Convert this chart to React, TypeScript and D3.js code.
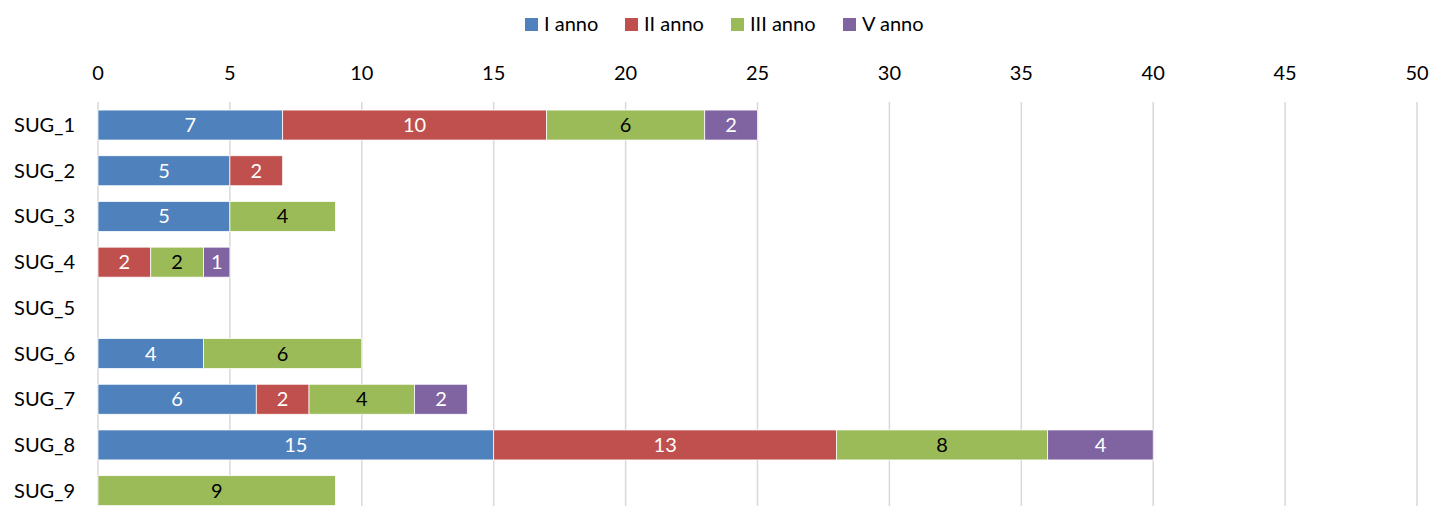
import React from "react";
import * as d3 from "d3";

const categories = ["SUG_1", "SUG_2", "SUG_3", "SUG_4", "SUG_5", "SUG_6", "SUG_7", "SUG_8", "SUG_9"];
const seriesNames = ["I anno", "II anno", "III anno", "V anno"];
const annoI = [7, 5, 5, 0, 0, 4, 6, 15, 0];
const annoII = [10, 2, 0, 2, 0, 0, 2, 13, 0];
const annoIII = [6, 0, 4, 2, 0, 6, 4, 8, 9];
const annoV = [2, 0, 0, 1, 0, 0, 2, 4, 0];
const xTicks = [0, 5, 10, 15, 20, 25, 30, 35, 40, 45, 50];

const colors = ["#4F81BD", "#C0504D", "#9BBB59", "#8064A2"];
const labelColors = ["#fff", "#fff", "#000", "#fff"];

export default function App() {
  const W = 1432, H = 506;
  const font = "Lato, 'Open Sans', sans-serif";
  const fs = 20;
  const x = d3.scaleLinear().domain([0, 50]).range([98, 1417]);
  const y = d3.scaleBand().domain(categories).range([102.2, 102.2 + 45.7 * 9]).paddingInner(0.344).paddingOuter(0.172);
  const series = [annoI, annoII, annoIII, annoV];
  const rows = categories.map((c, i) => {
    const obj: any = { cat: c };
    seriesNames.forEach((s, j) => (obj[s] = series[j][i]));
    return obj;
  });
  const stacked = d3.stack().keys(seriesNames)(rows);
  const legendX = [525, 625, 731, 843];
  return (
    <svg width={W} height={H} style={{ position: "absolute", left: 0, top: 0 }} fontFamily={font}>
      <rect width={W} height={H} fill="#fff" />
      {xTicks.map((t) => (
        <g key={t}>
          <line x1={x(t)} x2={x(t)} y1={102} y2={H} stroke="#d9d9d9" strokeWidth={1.5} />
          <text x={x(t)} y={79.5} textAnchor="middle" fontSize={fs} fill="#000">{t}</text>
        </g>
      ))}
      {categories.map((c) => (
        <text key={c} x={75} y={(y(c) as number) + y.bandwidth() / 2 + 7} textAnchor="end" fontSize={fs} fill="#000">{c}</text>
      ))}
      {stacked.map((layer, j) => (
        <g key={layer.key}>
          {layer.map((d, i) => {
            const v = d[1] - d[0];
            if (v <= 0) return null;
            const yy = y(categories[i]) as number;
            return (
              <g key={i}>
                <rect x={x(d[0])} y={yy} width={x(d[1]) - x(d[0])} height={y.bandwidth()} fill={colors[j]} stroke="#fff" strokeWidth={0.75} />
                <text x={(x(d[0]) + x(d[1])) / 2} y={yy + y.bandwidth() / 2 + 7} textAnchor="middle" fontSize={fs} fill={labelColors[j]}>{v}</text>
              </g>
            );
          })}
        </g>
      ))}
      {seriesNames.map((s, j) => (
        <g key={s}>
          <rect x={legendX[j]} y={18} width={13} height={13} fill={colors[j]} />
          <text x={legendX[j] + 19} y={31} fontSize={fs} fill="#000">{s}</text>
        </g>
      ))}
    </svg>
  );
}
